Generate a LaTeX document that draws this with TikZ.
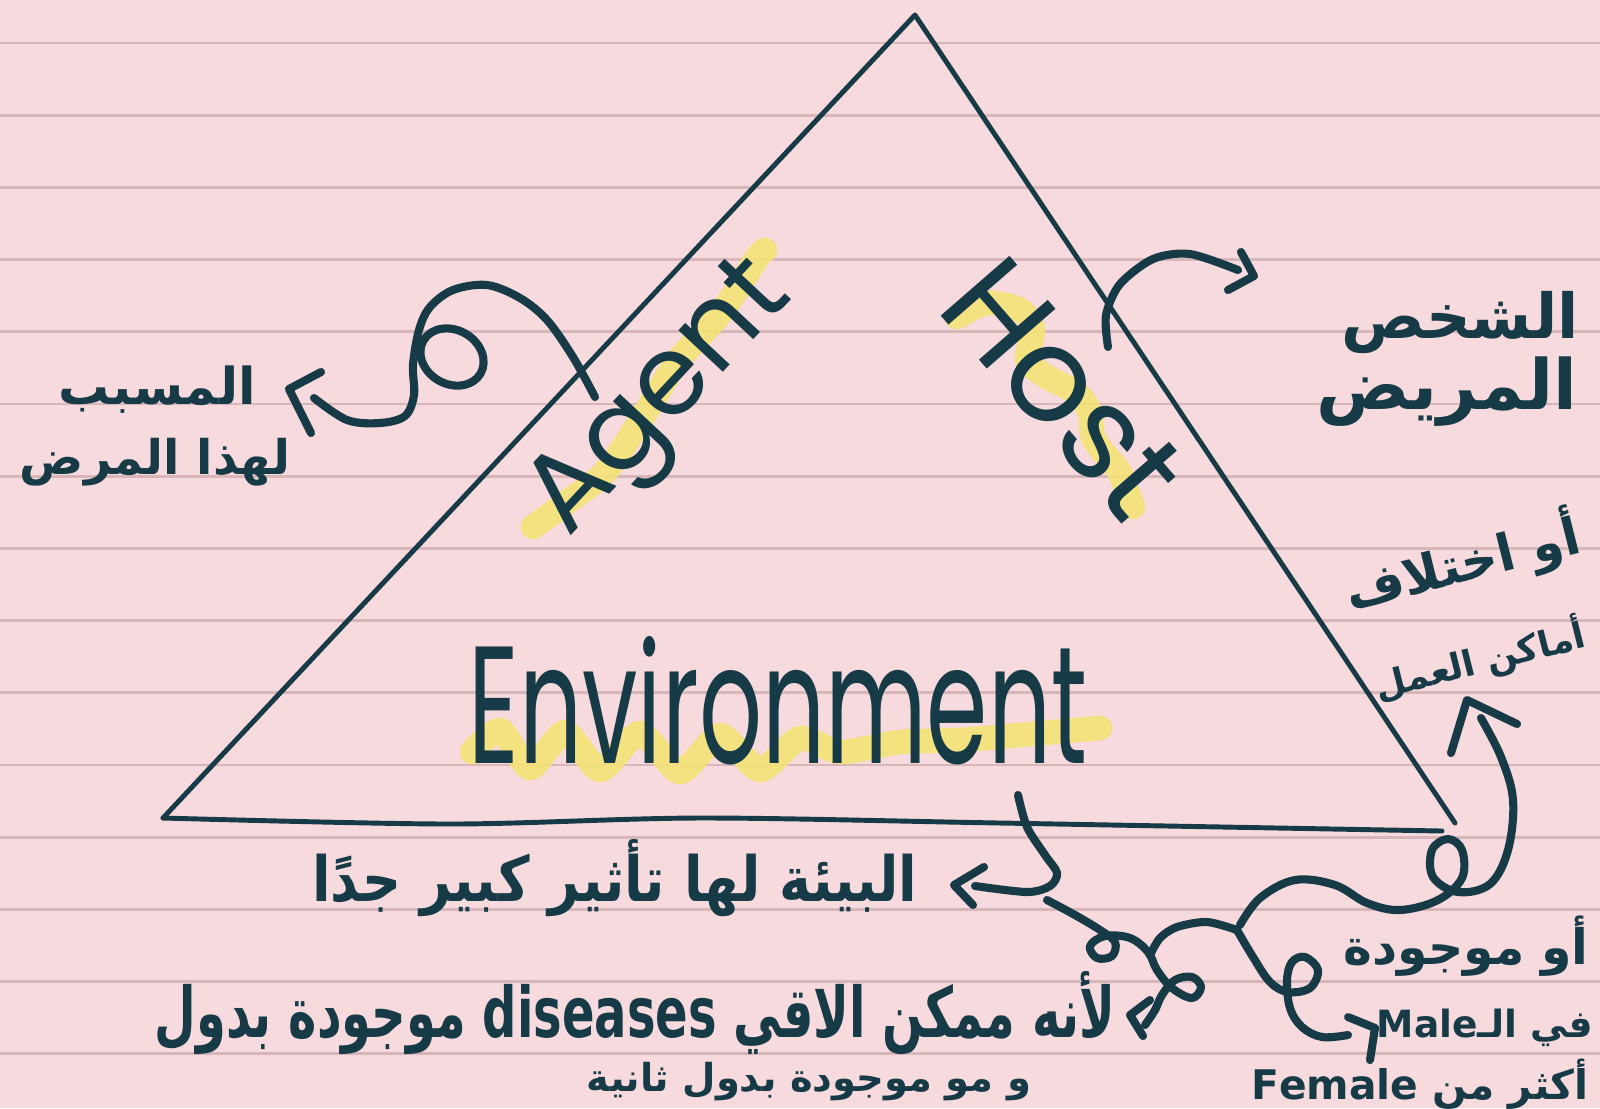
\documentclass[tikz,border=0pt]{standalone}
\usepackage{fontspec}
\usepackage{graphicx}
\TeXXeTstate=1
\newfontfamily\arfont[Script=Arabic]{DejaVu Sans}
\newfontfamily\enfont{Poppins}
\definecolor{paperc}{RGB}{246,218,221}
\definecolor{rulec}{RGB}{215,182,186}
\definecolor{inkc}{RGB}{22,58,70}
\definecolor{hlc}{RGB}{244,226,118}
\tikzset{
  ink/.style={draw=inkc,line width=2.3pt,line cap=round,line join=round},
  triside/.style={draw=inkc,line width=1.4pt,line cap=round,line join=round},
  hilite/.style={draw=hlc,line width=7pt,line cap=round,line join=round,opacity=0.9},
  paperline/.style={draw=rulec,line width=0.8pt},
  artxt/.style={text=inkc,inner sep=0pt,font=\arfont\bfseries\fontsize{24}{28}\selectfont},
  entxt/.style={text=inkc,inner sep=0pt,font=\enfont\fontsize{40}{44}\selectfont},
}
\newcommand{\arw}[2]{\resizebox{#1cm}{!}{#2}}
\newcommand{\arwh}[3]{\resizebox{#1cm}{#2cm}{#3}}
\begin{document}
\begin{tikzpicture}[x=0.01cm,y=-0.01cm]
\fill[paperc] (0,0) rectangle (1600,1108);
\useasboundingbox (0,0) rectangle (1600,1108);
\foreach \k in {0,...,14} \draw[paperline] (0,{43+72.2*\k}) -- (1600,{43+72.2*\k});

% highlights
\draw[hilite] plot[smooth] coordinates {(533,527) (570,500) (607,470) (647,410) (677,362) (723,310) (757,258) (765,250)};
\draw[hilite] plot[smooth] coordinates {(957,317) (987,303) (1020,310) (1033,330) (1027,360) (1047,377) (1077,393) (1090,413) (1093,437) (1107,457) (1120,473) (1133,507)};
\draw[hilite] plot[smooth,tension=0.4] coordinates {(472,752) (500,730) (530,768) (565,732) (600,770) (640,733) (680,772) (720,735) (760,770) (800,738) (840,752) (900,742) (960,740) (1020,735) (1100,728)};

% triangle
\coordinate (apex) at (915,15);
\coordinate (bl) at (163,818);
\coordinate (br) at (1455,823);
\draw[triside] (bl) -- (apex) -- (br);
\draw[triside] plot[smooth] coordinates {(bl) (450,824) (700,818) (1000,823) (1442,831)};

% English labels
\node[entxt,rotate=47] (agent) at (664,402) {\resizebox{3.3cm}{!}{Agent}};
\node[entxt,rotate=-49] (host) at (1064,388) {\resizebox{2.9cm}{!}{Host}};
\node[entxt] (env) at (778,701) {\resizebox{6.18cm}{1.27cm}{Environment}};

% Arabic notes
\node[artxt] (cause1) at (157,390) {\arw{1.97}{\beginR المسبب\endR}};
\node[artxt] (cause2) at (155,462) {\arw{2.70}{\beginR لهذا المرض\endR}};
\node[artxt] (host1) at (1460,322) {\arw{2.37}{\beginR الشخص\endR}};
\node[artxt] (host2) at (1447,392) {\arw{2.60}{\beginR المريض\endR}};
\node[artxt,rotate=14] (work1) at (1462,563) {\arw{2.40}{\beginR أو اختلاف\endR}};
\node[artxt,rotate=14] (work2) at (1480,660) {\arw{2.15}{\beginR أماكن العمل\endR}};
\node[artxt] (envnote) at (615,878) {\arwh{6.05}{0.62}{\beginR البيئة لها تأثير كبير جدًا\endR}};
\node[artxt] (dis1) at (635,1013) {\arwh{9.60}{0.66}{\beginR لأنه ممكن الاقي \beginL diseases\endL\ موجودة بدول\endR}};
\node[artxt] (dis2) at (809,1082) {\arw{4.44}{\beginR و مو موجودة بدول ثانية\endR}};
\node[artxt] (sex1) at (1466,946) {\arw{2.45}{\beginR أو موجودة\endR}};
\node[artxt] (sex2) at (1485,1028) {\arw{2.16}{\beginR في الـ\beginL Male\endL\endR}};
\node[artxt] (sex3) at (1420,1084) {\arw{3.37}{\beginR أكثر من \beginL Female\endL\endR}};

% Agent arrow
\coordinate (aS) at (595,397);
\coordinate (aE) at (314,398);
\draw[ink] plot[smooth,tension=0.55] coordinates {(aS) (573,357) (547,320) (520,298) (487,285) (453,290) (430,307) (419,330) (413,365) (414,395) (405,416) (380,423) (347,420) (aE)};
\draw[ink] (452,357) ellipse[x radius=33, y radius=27, rotate=-30];
\draw[ink] (321,372) -- (289,389) -- (311,433);

% Host arrow
\draw[ink] plot[smooth] coordinates {(1108,347) (1106,315) (1120,284) (1153,259) (1190,254) (1238,270)};
\draw[ink] (1241,252) -- (1254,276) -- (1228,290);

% Environment arrow
\draw[ink] plot[smooth] coordinates {(1018,795) (1027,827) (1045,855) (1057,873) (1050,886) (1027,892) (975,886)};
\draw[ink] (984,867) -- (954,885) -- (973,905);

% chain of loops
\draw[ink] plot[smooth,tension=0.6] coordinates {(1047,900) (1075,915) (1100,930) (1115,942) (1112,956) (1097,958) (1090,946) (1105,936) (1130,938) (1148,952) (1157,970) (1172,988) (1192,998) (1201,987) (1192,977) (1175,980) (1162,995) (1155,1010) (1145,1025)};
\draw[ink] (1150,1000) -- (1130,1015) -- (1143,1036);
\draw[ink] plot[smooth] coordinates {(1150,955) (1160,938) (1177,927) (1207,922) (1237,930)};
\draw[ink] plot[smooth,tension=0.6] coordinates {(1237,930) (1253,957) (1270,982) (1288,992) (1310,988) (1318,970) (1305,957) (1292,962) (1287,980) (1290,1008) (1302,1027) (1322,1037) (1348,1035)};
\draw[ink] (1348,1017) -- (1375,1028) -- (1370,1060);
\draw[ink] plot[smooth,tension=0.6] coordinates {(1240,925) (1260,898) (1295,880) (1335,885) (1367,903) (1400,910) (1438,900) (1462,878) (1462,850) (1448,839) (1432,850) (1433,877) (1458,892) (1490,884) (1508,850) (1513,800) (1501,757) (1481,718)};
\draw[ink] (1451,753) -- (1467,700) -- (1517,724);
\end{tikzpicture}
\end{document}
